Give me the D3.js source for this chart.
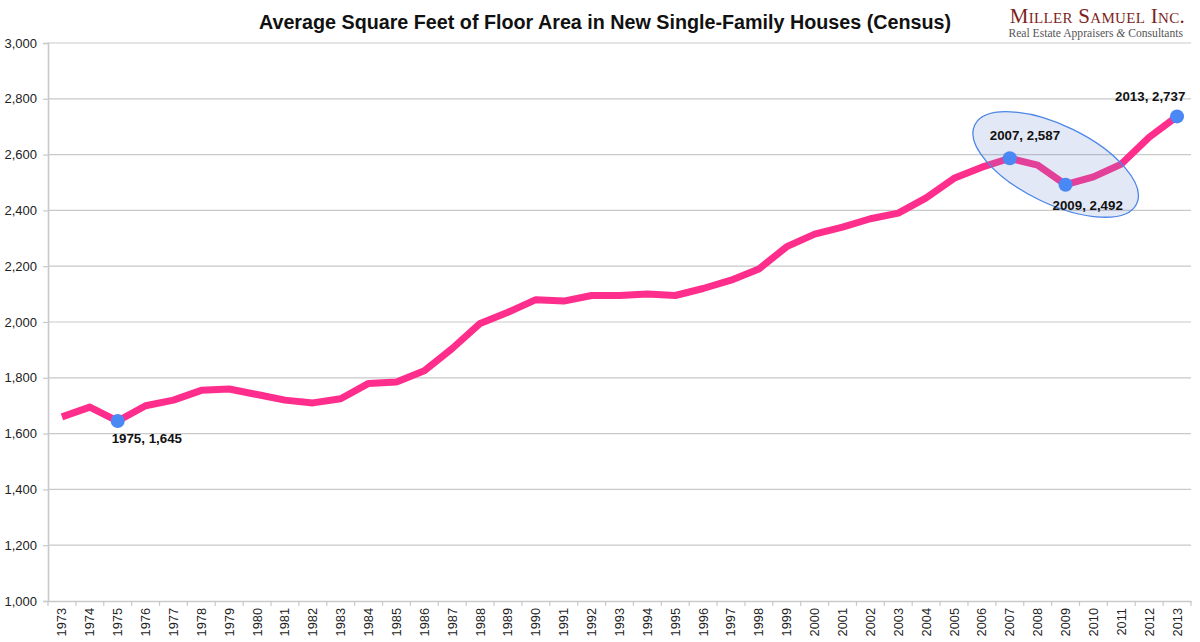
<!DOCTYPE html>
<html>
<head>
<meta charset="utf-8">
<script src="https://cdn.jsdelivr.net/npm/d3@7"></script>
<style>
  html, body { margin: 0; padding: 0; background: #fff; }
  svg { display: block; }
</style>
</head>
<body>
<svg id="chart" width="1200" height="642"></svg>
<script>
const years = ["1973","1974","1975","1976","1977","1978","1979","1980","1981","1982","1983","1984","1985","1986","1987","1988","1989","1990","1991","1992","1993","1994","1995","1996","1997","1998","1999","2000","2001","2002","2003","2004","2005","2006","2007","2008","2009","2010","2011","2012","2013"];
const avgSqFt = [1660,1695,1645,1700,1720,1755,1760,1740,1720,1710,1725,1780,1785,1825,1905,1995,2035,2080,2075,2095,2095,2100,2095,2120,2150,2190,2270,2315,2340,2370,2390,2445,2515,2555,2587,2562,2492,2520,2566,2662,2737];
const yTicks = [1000,1200,1400,1600,1800,2000,2200,2400,2600,2800,3000];
const highlights = [
  {year:"1975", value:1645, label:"1975, 1,645", dx:-6, dy:22},
  {year:"2007", value:2587, label:"2007, 2,587", dx:-20, dy:-18},
  {year:"2009", value:2492, label:"2009, 2,492", dx:-13, dy:25},
  {year:"2013", value:2737, label:"2013, 2,737", dx:-62, dy:-15}
];
const title = "Average Square Feet of Floor Area in New Single-Family Houses (Census)";

(function () {
const svg = d3.select("#chart");
const mLeft = 48, mRight = 1191, mTop = 43, mBottom = 601;

const x = d3.scaleBand().domain(years).range([mLeft, mRight]).padding(0);
const y = d3.scaleLinear().domain([1000, 3000]).range([mBottom, mTop]);
const cx = d => x(d) + x.bandwidth() / 2;

// gridlines
svg.append("g").selectAll("line").data(yTicks.slice(1)).join("line")
  .attr("x1", mLeft).attr("x2", mRight)
  .attr("y1", d => y(d)).attr("y2", d => y(d))
  .attr("stroke", "#c9c9c9").attr("stroke-width", 1.2);

// y axis
const yAxis = svg.append("g").attr("transform", `translate(${mLeft},0)`)
  .call(d3.axisLeft(y).tickValues(yTicks).tickSize(5).tickPadding(6).tickFormat(d3.format(",")));
yAxis.select(".domain").attr("stroke", "#c9c9c9").attr("stroke-width", 1.6);
yAxis.selectAll(".tick line").attr("stroke", "#c9c9c9").attr("stroke-width", 1.2);
yAxis.selectAll("text").attr("font-family", "Liberation Sans, Arial, sans-serif").attr("font-size", 13).attr("fill", "#222");

// x axis
const xAxis = svg.append("g").attr("transform", `translate(0,${mBottom})`)
  .call(d3.axisBottom(x).tickSize(0).tickPadding(0));
xAxis.select(".domain").attr("stroke", "#c9c9c9").attr("stroke-width", 1.6);
xAxis.selectAll(".tick line").remove();
xAxis.selectAll(".tick text")
  .attr("font-family", "Liberation Sans, Arial, sans-serif").attr("font-size", 12.8).attr("fill", "#222")
  .attr("transform", "rotate(-90)")
  .attr("text-anchor", "end").attr("x", -7).attr("y", 0).attr("dy", "0.35em");
// boundary tick marks
svg.append("g").selectAll("line").data(years.concat(["_end"])).join("line")
  .attr("x1", (d, i) => mLeft + i * x.bandwidth()).attr("x2", (d, i) => mLeft + i * x.bandwidth())
  .attr("y1", mBottom).attr("y2", mBottom + 5)
  .attr("stroke", "#c9c9c9").attr("stroke-width", 1.2);

// line
const line = d3.line().x((d, i) => cx(years[i])).y(d => y(d));
svg.append("path").datum(avgSqFt)
  .attr("d", line).attr("fill", "none")
  .attr("stroke", "#ff2d8c").attr("stroke-width", 7)
  .attr("stroke-linejoin", "round").attr("stroke-linecap", "butt");

// ellipse highlight
const ex = (cx("2007") + cx("2009")) / 2 + 18;
const ey = (y(2587) + y(2492)) / 2 - 7;
svg.append("ellipse")
  .attr("cx", 0).attr("cy", 0).attr("rx", 90).attr("ry", 39)
  .attr("transform", `translate(${ex},${ey}) rotate(26)`)
  .attr("fill", "rgba(115,142,210,0.2)")
  .attr("stroke", "#4a86e8").attr("stroke-width", 1.3);

// markers
svg.append("g").selectAll("circle").data(highlights).join("circle")
  .attr("cx", d => cx(d.year)).attr("cy", d => y(d.value)).attr("r", 7)
  .attr("fill", "#4a88f5");

// labels
svg.append("g").selectAll("text").data(highlights).join("text")
  .attr("x", d => cx(d.year) + d.dx).attr("y", d => y(d.value) + d.dy)
  .attr("font-family", "Liberation Sans, Arial, sans-serif").attr("font-weight", "bold")
  .attr("font-size", 13.3).attr("fill", "#111")
  .text(d => d.label);

// title
svg.append("text").attr("transform", "translate(605,29) scale(0.94,1)").attr("text-anchor", "middle")
  .attr("font-family", "Liberation Sans, Arial, sans-serif")
  .attr("font-weight", "bold").attr("font-size", 21).attr("fill", "#111")
  .text(title);

// logo
svg.append("text").attr("x", 1185).attr("y", 23).attr("text-anchor", "end")
  .attr("font-family", "Liberation Serif, Times New Roman, serif")
  .attr("font-size", 21).attr("fill", "#7d1f22").attr("letter-spacing", 0.3)
  .style("font-variant", "small-caps")
  .text("Miller Samuel Inc.");
const sub = svg.append("text").attr("x", 1183).attr("y", 37).attr("text-anchor", "end")
  .attr("font-family", "Liberation Serif, Times New Roman, serif")
  .attr("font-size", 11.6).attr("fill", "#555");
sub.append("tspan").text("Real Estate Appraisers ");
sub.append("tspan").attr("font-style", "italic").text("&");
sub.append("tspan").text(" Consultants");
})();
</script>
</body>
</html>
